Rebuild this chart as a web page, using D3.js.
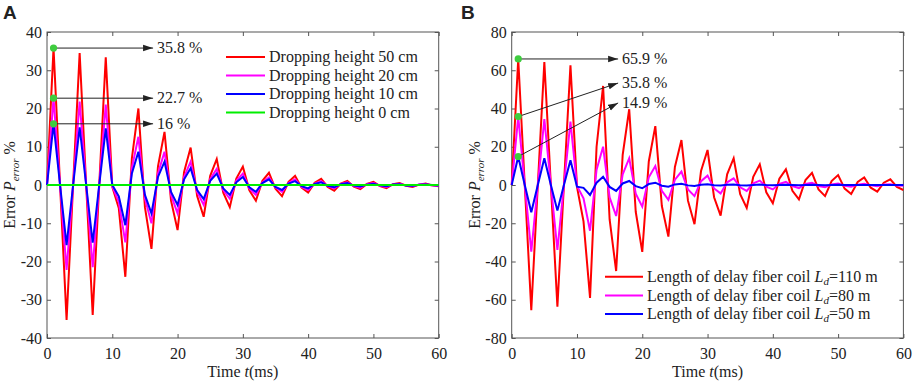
<!DOCTYPE html>
<html>
<head>
<meta charset="utf-8">
<script src="https://cdn.jsdelivr.net/npm/d3@7"></script>
<style>
  body { margin: 0; background: #fff; }
  svg { display: block; }
  svg text { font-family: "Liberation Serif", "DejaVu Serif", serif !important; fill: #222; }
  svg text.letter { font-family: "Liberation Sans", Arial, sans-serif !important; font-weight: bold; }
</style>
</head>
<body>
<svg id="chart" width="913" height="383"></svg>
<script>
// sample times (ms)
const timeMs = [0,1,2,3,4,5,6,7,8,9,10,11,12,13,14,15,16,17,18,19,20,
  21,22,23,24,25,26,27,28,29,30,31,32,33,34,35,36,37,38,39,40,
  41,42,43,44,45,46,47,48,49,50,51,52,53,54,55,56,57,58,59,60];

// --- Panel A: dropping height ---
const heightLabels = ["Dropping height 50 cm", "Dropping height 20 cm", "Dropping height 10 cm", "Dropping height 0 cm"];
const err50cm = [0,35.8,0,-35.3,0,34.5,0,-34.0,0,33.4,-0.5,-6.1,-24.0,7.0,20.0,-5.8,-16.7,4.9,13.9,-4.1,-11.8,
  3.4,9.8,-2.9,-8.3,2.4,6.8,-2.0,-5.8,1.7,4.8,-1.4,-4.1,1.1,3.2,-1.0,-2.9,0.8,2.4,-0.7,-2.0,
  0.6,1.6,-0.5,-1.5,0.4,1.1,-0.4,-1.1,0.3,0.8,-0.3,-0.8,0.2,0.5,-0.2,-0.5,0.1,0.4,-0.1,-0.3];
const err20cm = [0,22.7,0,-22.2,0,21.8,0,-21.5,0,21.0,-0.3,-4.5,-15.0,4.4,12.6,-3.5,-10.0,3.0,8.7,-2.6,-7.4,
  2.1,6.1,-1.8,-5.2,1.5,4.2,-1.3,-3.6,1.1,3.0,-0.9,-2.6,0.7,2.0,-0.6,-1.8,0.5,1.5,-0.5,-1.3,
  0.35,1.0,-0.3,-0.9,0.25,0.7,-0.25,-0.7,0.2,0.5,-0.2,-0.5,0.1,0.3,-0.1,-0.3,0.1,0.2,-0.1,-0.2];
const err10cm = [0,16.0,0,-15.7,0,15.1,0,-15.1,0,14.8,0,-3.0,-10.5,3.0,8.7,-2.6,-7.4,2.1,6.1,-1.8,-5.2,
  1.5,4.4,-1.3,-3.7,1.1,3.0,-0.9,-2.6,0.7,2.1,-0.6,-1.8,0.5,1.5,-0.5,-1.3,0.35,1.0,-0.3,-0.9,
  0.25,0.7,-0.2,-0.6,0.2,0.5,-0.15,-0.4,0.1,0.3,-0.1,-0.3,0.1,0.2,-0.1,-0.2,0.05,0.1,0,-0.1];
const err0cm = [0,0,0,0,0,0,0,0,0,0,0,0,0,0,0,0,0,0,0,0,0,
  0,0,0,0,0,0,0,0,0,0,0,0,0,0,0,0,0,0,0,0,
  0,0,0,0,0,0,0,0,0,0,0,0,0,0,0,0,0,0,0,0];
const peakLabelsA = [35.8, 22.7, 16];

// --- Panel B: length of delay fiber coil ---
const coilLengths = ["110", "80", "50"];
const errCoil110 = [0,65.9,0,-65.4,0,64.3,0,-63.6,0,62.6,-1.0,-19.0,-59.0,20.0,51.8,-18.0,-45.0,15.8,39.6,-14.0,-35.0,
  12.3,30.8,-11.0,-27.0,9.4,23.5,-8.2,-20.5,7.3,18.3,-6.4,-16.0,5.6,14.0,-4.8,-12.0,4.3,10.8,-3.8,-9.5,
  3.3,8.2,-3.0,-7.5,2.6,6.4,-2.3,-5.8,2.1,5.2,-1.9,-4.7,1.6,4.0,-1.4,-3.5,1.2,3.0,-1.0,-2.6];
const errCoil80 = [0,35.8,0,-34.9,0,34.5,0,-34.0,0,33.1,-0.5,-7.0,-23.9,8.0,20.0,-6.5,-16.2,5.6,14.0,-4.5,-11.3,
  4.0,9.9,-3.1,-7.8,2.8,7.0,-2.3,-5.8,2.0,4.9,-1.8,-4.4,1.4,3.5,-1.2,-3.1,0.9,2.3,-0.9,-2.3,
  0.6,1.6,-0.6,-1.6,0.5,1.2,-0.5,-1.2,0.3,0.8,-0.4,-0.9,0.2,0.6,-0.2,-0.6,0.2,0.4,-0.2,-0.4];
const errCoil50 = [0,14.9,0,-14.3,0,14.0,0,-13.4,0,13.0,-0.9,-1.5,-5.2,1.2,4.3,-1.0,-3.1,0.8,2.1,-0.6,-1.7,
  0.5,1.2,-0.35,-0.9,0.3,0.7,-0.2,-0.5,0.15,0.4,-0.1,-0.3,0.1,0.3,-0.1,-0.2,0.05,0.2,-0.05,-0.15,
  0.05,0.15,0,-0.1,0,0.1,0,-0.1,0,0.1,0,-0.05,0,0.05,0,-0.05,0,0.05,0,0];
const peakLabelsB = [65.9, 35.8, 14.9];

const xTicks = [0, 10, 20, 30, 40, 50, 60];
const yTicksA = [-40, -30, -20, -10, 0, 10, 20, 30, 40];
const yTicksB = [-80, -60, -40, -20, 0, 20, 40, 60, 80];

const svg = d3.select("#chart");

// arrow head used by the callouts
svg.append("defs").append("marker")
  .attr("id", "arrow")
  .attr("markerUnits", "userSpaceOnUse")
  .attr("markerWidth", 10).attr("markerHeight", 8)
  .attr("viewBox", "0 0 10 8")
  .attr("refX", 10).attr("refY", 4)
  .attr("orient", "auto")
  .append("path")
  .attr("d", "M0,0.8 L10,4 L0,7.2 Z")
  .attr("fill", "#222");

class ErrorPanel {
  constructor(_config, _series) {
    this.config = {
      parentElement: _config.parentElement,
      left: _config.left,
      top: 32,
      width: 391.7,
      height: 306,
      yDomain: _config.yDomain,
      yTicks: _config.yTicks,
      letter: _config.letter,
      letterX: _config.letterX,
      titleX: _config.titleX,
      legend: _config.legend,
      callouts: _config.callouts
    };
    this.series = _series;
    this.initVis();
  }

  initVis() {
    let vis = this;
    const c = vis.config;

    vis.svg = d3.select(c.parentElement);
    vis.g = vis.svg.append("g")
      .attr("transform", `translate(${c.left},${c.top})`);

    vis.xScale = d3.scaleLinear().domain([0, 60]).range([0, c.width]);
    vis.yScale = d3.scaleLinear().domain(c.yDomain).range([c.height, 0]);

    vis.renderAxes();
    vis.renderVis();
  }

  renderAxes() {
    let vis = this;
    const c = vis.config;
    const fmt = d => String(d);   // plain hyphen for negatives

    const styleAxis = sel => {
      sel.attr("font-size", 16).attr("color", "#222");
      sel.selectAll(".tick line").attr("stroke", "#555");
      sel.select(".domain").remove();
    };

    vis.g.append("g")
      .attr("transform", `translate(0,${c.height})`)
      .call(d3.axisBottom(vis.xScale).tickValues(xTicks).tickFormat(fmt)
        .tickSizeInner(-4).tickSizeOuter(0).tickPadding(10))
      .call(styleAxis);
    vis.g.append("g")
      .call(d3.axisTop(vis.xScale).tickValues(xTicks).tickFormat("")
        .tickSizeInner(-4).tickSizeOuter(0))
      .call(styleAxis);
    vis.g.append("g")
      .call(d3.axisLeft(vis.yScale).tickValues(c.yTicks).tickFormat(fmt)
        .tickSizeInner(-4).tickSizeOuter(0).tickPadding(5))
      .call(styleAxis);
    vis.g.append("g")
      .attr("transform", `translate(${c.width},0)`)
      .call(d3.axisRight(vis.yScale).tickValues(c.yTicks).tickFormat("")
        .tickSizeInner(-4).tickSizeOuter(0))
      .call(styleAxis);

    // box
    vis.g.append("rect")
      .attr("width", c.width).attr("height", c.height)
      .attr("fill", "none").attr("stroke", "#555").attr("stroke-width", 1);

    // axis titles
    const xt = vis.g.append("text")
      .attr("x", c.width / 2).attr("y", c.height + 39)
      .attr("text-anchor", "middle").attr("font-size", 16);
    xt.append("tspan").text("Time ");
    xt.append("tspan").attr("font-style", "italic").text("t");
    xt.append("tspan").text("(ms)");

    const yt = vis.svg.append("text")
      .attr("transform", `translate(${c.titleX},${c.top + c.height / 2}) rotate(-90)`)
      .attr("text-anchor", "middle").attr("font-size", 16);
    yt.append("tspan").text("Error ");
    yt.append("tspan").attr("font-style", "italic").text("P");
    yt.append("tspan").attr("font-style", "italic").attr("font-size", 11).attr("dy", 4).text("error");
    yt.append("tspan").attr("dy", -4).text(" %");

    vis.svg.append("text")
      .attr("class", "letter")
      .attr("x", c.letterX).attr("y", 19)
      .attr("font-size", 19)
      .text(c.letter);
  }

  renderVis() {
    let vis = this;
    const c = vis.config;

    const line = d3.line()
      .x((d, i) => vis.xScale(timeMs[i]))
      .y(d => vis.yScale(d));

    vis.g.selectAll(".series")
      .data(vis.series)
      .join("path")
      .attr("class", "series")
      .attr("d", d => line(d.values))
      .attr("fill", "none")
      .attr("stroke", d => d.color)
      .attr("stroke-width", 2);

    // legend
    const lg = vis.svg.append("g")
      .attr("transform", `translate(${c.legend.x},${c.legend.y})`);
    const rows = lg.selectAll("g")
      .data(vis.series)
      .join("g")
      .attr("transform", (d, i) => `translate(0,${i * c.legend.gap})`);
    rows.append("line")
      .attr("x1", 0).attr("x2", c.legend.lineLen)
      .attr("stroke", d => d.color).attr("stroke-width", 2);
    const lt = rows.append("text")
      .attr("x", c.legend.lineLen + 4).attr("dy", "0.33em")
      .attr("font-size", 16);
    lt.each(function(d) {
      const t = d3.select(this);
      d.label.forEach(p => {
        const sp = t.append("tspan").text(p.text);
        if (p.italic) sp.attr("font-style", "italic");
        if (p.sub) sp.attr("font-size", 11).attr("dy", 3);
        if (p.after) sp.attr("dy", -3);
      });
    });

    // callouts: arrow from marked peak to value label
    const x0 = vis.xScale(1);
    c.callouts.forEach(co => {
      const y0 = vis.yScale(co.value);
      const tx = vis.xScale(co.tipT);
      const ty = vis.yScale(co.tipV);
      vis.g.append("line")
        .attr("x1", x0).attr("y1", y0).attr("x2", tx).attr("y2", ty)
        .attr("stroke", "#222").attr("stroke-width", 1)
        .attr("marker-end", "url(#arrow)");
      vis.g.append("text")
        .attr("x", tx + 4).attr("y", ty).attr("dy", "0.33em")
        .attr("font-size", 16)
        .text(`${co.value} %`);
    });
    vis.g.selectAll(".peak")
      .data(c.callouts)
      .join("circle")
      .attr("class", "peak")
      .attr("cx", x0)
      .attr("cy", d => vis.yScale(d.value))
      .attr("r", 3.6)
      .attr("fill", "#3fcc3f");
  }
}

const seriesA = [
  { values: err50cm, color: "#ff0000", label: [{ text: heightLabels[0] }] },
  { values: err20cm, color: "#ff00ff", label: [{ text: heightLabels[1] }] },
  { values: err10cm, color: "#0000ff", label: [{ text: heightLabels[2] }] },
  { values: err0cm,  color: "#00ee00", label: [{ text: heightLabels[3] }] }
];

const coilLabel = len => [
  { text: "Length of delay fiber coil " },
  { text: "L", italic: true },
  { text: "d", italic: true, sub: true },
  { text: `=${len} m`, after: true }
];
const seriesB = [
  { values: errCoil110, color: "#ff0000", label: coilLabel(coilLengths[0]) },
  { values: errCoil80,  color: "#ff00ff", label: coilLabel(coilLengths[1]) },
  { values: errCoil50,  color: "#0000ff", label: coilLabel(coilLengths[2]) }
];

new ErrorPanel({
  parentElement: "#chart",
  left: 47,
  yDomain: [-40, 40],
  yTicks: yTicksA,
  letter: "A", letterX: 3,
  titleX: 15,
  legend: { x: 226, y: 57, gap: 18.5, lineLen: 39 },
  callouts: peakLabelsA.map(v => ({ value: v, tipT: 16.25, tipV: v }))
}, seriesA);

new ErrorPanel({
  parentElement: "#chart",
  left: 511.7,
  yDomain: [-80, 80],
  yTicks: yTicksB,
  letter: "B", letterX: 461,
  titleX: 480,
  legend: { x: 605, y: 276.7, gap: 18.7, lineLen: 38 },
  callouts: [
    { value: peakLabelsB[0], tipT: 16.3, tipV: 65.9 },
    { value: peakLabelsB[1], tipT: 16.3, tipV: 53.3 },
    { value: peakLabelsB[2], tipT: 16.3, tipV: 42.9 }
  ]
}, seriesB);
</script>
</body>
</html>
